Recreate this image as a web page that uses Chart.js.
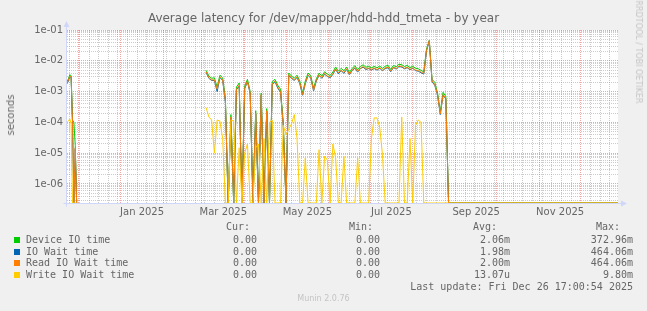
<!DOCTYPE html>
<html>
<head>
<meta charset="utf-8">
<script src="https://cdn.jsdelivr.net/npm/chart.js"></script>
<style>
  body { margin: 0; background: #f0f0f0; }
  #wrap { position: relative; width: 647px; height: 311px; overflow: hidden; font-family: "DejaVu Sans", sans-serif; color: #666; }
  #chart { position: absolute; left: 0; top: 0; }
  .txt { position: absolute; white-space: pre; }
  .title { left: 0; width: 647px; top: 11px; text-align: center; font-size: 12px; line-height: 14px; }
  .ytitle { left: 11px; top: 115px; font-size: 10px; line-height: 12px; transform: translate(-50%, -50%) rotate(-90deg); }
  .wm { left: 638px; top: 52px; font-size: 8px; line-height: 10px; color: #c4c4c4; transform: translate(-50%, -50%) rotate(90deg); }
  .mono { font-family: "DejaVu Sans Mono", monospace; font-size: 10px; line-height: 12px; }
  .box { position: absolute; width: 6px; height: 6px; left: 14px; }
  .foot { left: 0; width: 647px; text-align: center; top: 294px; font-size: 8px; line-height: 10px; color: #c4c4c4; }
</style>
</head>
<body>
<div id="wrap">
  <canvas id="chart" width="647" height="311"></canvas>
  <div class="txt title">Average latency for /dev/mapper/hdd-hdd_tmeta - by year</div>
  <div class="txt ytitle">seconds</div>
  <div class="txt wm">RRDTOOL / TOBI OETIKER</div>
  <div class="txt foot">Munin 2.0.76</div>
</div>
<script>
// x values are days counted from 1 Jan 2025 (negative = late 2024)
const days = [-39, -38, -37, -36, -35, -34, -33, -32, -31,
  62, 64, 66, 68, 70, 72, 74, 76, 78, 80, 82, 84, 86, 88, 90, 92, 94, 96, 98, 100,
  102, 104, 106, 108, 110, 112, 114, 116, 118, 120, 122, 124, 126, 128, 130, 132, 134, 136, 138, 140,
  142, 144, 146, 148, 150, 152, 154, 156, 158, 160, 162, 164, 166, 168, 170, 172, 174, 176, 178, 180,
  182, 184, 186, 188, 190, 192, 194, 196, 198, 200, 202, 204, 206, 208, 210, 212, 214, 216, 218, 220,
  222, 224, 226, 228, 230, 232, 234, 236, 238, 361];

const deviceIO = [2.1e-3, 2.6e-3, 3.5e-3, 3.3e-3, 1.2e-4, 1.0e-4, 1.8e-5, 0, null,
  4.9e-3, 3.2e-3, 2.7e-3, 2.8e-3, 1.4e-3, 3.4e-3, 2.8e-3, 6e-4, 0, 1.8e-4,
  0, 1.4e-3, 1.9e-3, 0, 1.5e-3, 2.5e-3, 1.0e-3, 0, 2.4e-4, 0,
  9e-4, 0, 2.8e-4, 0, 2.1e-3, 2.5e-3, 1.6e-3, 1.2e-3, 1.0e-4, 0,
  4.0e-3, 3.2e-3, 2.7e-3, 3.4e-3, 2.2e-3, 9e-4, 2.2e-3, 4.0e-3, 3.2e-3, 1.3e-3,
  2.6e-3, 4.0e-3, 3.2e-3, 4.4e-3, 3.7e-3, 3.3e-3, 4.3e-3, 6.3e-3, 4.6e-3, 5.7e-3,
  4.7e-3, 6.3e-3, 4.1e-3, 5.7e-3, 6.9e-3, 5.1e-3, 6.6e-3, 7.4e-3, 6.2e-3, 6.6e-3,
  5.9e-3, 6.6e-3, 5.9e-3, 6.7e-3, 5.7e-3, 6.6e-3, 7.2e-3, 5.2e-3, 7.1e-3, 6.4e-3,
  7.7e-3, 7.5e-3, 6.5e-3, 7.1e-3, 6.0e-3, 6.7e-3, 5.7e-3, 5.5e-3, 4.9e-3, 4.4e-3,
  2.4e-2, 4.6e-2, 2.5e-3, 2.0e-3, 9e-4, 2.2e-4, 9.5e-4, 7e-4, 0, 0];

const ioWait = [1.8e-3, 2.2e-3, 3.1e-3, 2.9e-3, 9.5e-5, 0, 1.4e-5, 0, null,
  4.2e-3, 2.7e-3, 2.3e-3, 2.3e-3, 1.0e-3, 2.9e-3, 2.3e-3, 4.5e-4, 0, 1.4e-4,
  0, 1.15e-3, 1.5e-3, 0, 1.25e-3, 2.1e-3, 8.5e-4, 0, 1.9e-4, 0,
  7.6e-4, 0, 2.3e-4, 0, 1.7e-3, 2.1e-3, 1.3e-3, 9.5e-4, 7.6e-5, 0,
  3.4e-3, 2.7e-3, 2.3e-3, 2.9e-3, 1.8e-3, 7.6e-4, 1.8e-3, 3.4e-3, 2.7e-3, 1.05e-3,
  2.2e-3, 3.4e-3, 2.7e-3, 3.7e-3, 3.1e-3, 2.8e-3, 3.6e-3, 5.3e-3, 3.8e-3, 4.8e-3,
  3.9e-3, 5.3e-3, 3.5e-3, 4.8e-3, 5.8e-3, 4.3e-3, 5.6e-3, 6.2e-3, 5.2e-3, 5.6e-3,
  5.0e-3, 5.6e-3, 5.0e-3, 5.7e-3, 4.8e-3, 5.6e-3, 6.0e-3, 4.4e-3, 6.0e-3, 5.4e-3,
  6.5e-3, 6.3e-3, 5.5e-3, 6.0e-3, 5.1e-3, 5.7e-3, 4.8e-3, 4.6e-3, 4.1e-3, 3.7e-3,
  2.1e-2, 4.4e-2, 2.1e-3, 1.6e-3, 7.7e-4, 1.8e-4, 7.7e-4, 5.8e-4, 0, 0];

const readIO = [1.9e-3, 2.3e-3, 3.2e-3, 3.0e-3, 1.0e-4, 0, 1.5e-5, 0, null,
  4.4e-3, 2.8e-3, 2.4e-3, 2.4e-3, 1.2e-3, 3.0e-3, 2.4e-3, 5e-4, 0, 1.5e-4,
  0, 1.2e-3, 1.6e-3, 0, 1.3e-3, 2.2e-3, 9e-4, 0, 2e-4, 0,
  8e-4, 0, 2.4e-4, 0, 1.8e-3, 2.2e-3, 1.4e-3, 1.0e-3, 8e-5, 0,
  3.5e-3, 2.8e-3, 2.4e-3, 3.0e-3, 1.9e-3, 8e-4, 1.9e-3, 3.5e-3, 2.8e-3, 1.1e-3,
  2.3e-3, 3.5e-3, 2.8e-3, 3.9e-3, 3.2e-3, 2.9e-3, 3.8e-3, 5.5e-3, 4.0e-3, 5.0e-3,
  4.1e-3, 5.5e-3, 3.6e-3, 5.0e-3, 6.0e-3, 4.5e-3, 5.8e-3, 6.5e-3, 5.4e-3, 5.8e-3,
  5.2e-3, 5.8e-3, 5.2e-3, 5.9e-3, 5.0e-3, 5.8e-3, 6.3e-3, 4.6e-3, 6.2e-3, 5.6e-3,
  6.8e-3, 6.6e-3, 5.7e-3, 6.2e-3, 5.3e-3, 5.9e-3, 5.0e-3, 4.8e-3, 4.3e-3, 3.9e-3,
  2.2e-2, 4.5e-2, 2.2e-3, 1.7e-3, 8e-4, 1.9e-4, 8e-4, 6e-4, 0, 0];

const writeIO = [1.0e-4, 1.1e-4, 1.3e-4, 9e-5, 0, 0, 0, 0, null,
  3e-4, 1.5e-4, 1.2e-4, 1e-5, 1.2e-4, 1.1e-4, 3e-5, 0, 0, 1.2e-4,
  1.1e-4, 0, 1.5e-5, 0, 1e-5, 2e-5, 0, 0, 1.5e-5, 2e-5,
  0, 3e-5, 0, 1e-4, 1.2e-4, 0, 0, 0, 8e-5, 4e-5,
  6e-5, 9e-5, 1.8e-4, 3e-5, 0, 0, 7e-6, 0, 0, 0,
  0, 1.3e-5, 0, 8e-6, 6e-6, 0, 2e-5, 7e-6, 0, 0,
  8e-6, 0, 0, 0, 0, 7e-6, 0, 0, 0, 0,
  3e-5, 1.4e-4, 1.4e-4, 7e-5, 9e-6, 0, 0, 0, 0, 0,
  0, 1.5e-4, 0, 0, 3e-5, 0, 8e-5, 1.2e-4, 1e-4, 0,
  0, 0, 0, 0, 0, 0, 0, 0, 0, 0];

const seriesNames = ['Device IO time', 'IO Wait time', 'Read IO Wait time', 'Write IO Wait time'];
const seriesColors = ['#00cc00', '#0066b3', '#ff8000', '#ffcc00'];
const curVals = ['0.00 ', '0.00 ', '0.00 ', '0.00 '];
const minVals = ['0.00 ', '0.00 ', '0.00 ', '0.00 '];
const avgVals = ['2.06m', '1.98m', '2.00m', '13.07u'];
const maxVals = ['372.96m', '464.06m', '464.06m', '9.80m'];
const lastUpdate = 'Last update: Fri Dec 26 17:00:54 2025';

// axis ranges and tick labels
const xMin = -39, xMax = 361;
const monthStarts = [-31, 0, 31, 59, 90, 120, 151, 181, 212, 243, 273, 304, 334];
const labelDays = [15.5, 74.5, 135.5, 196.5, 258, 319];
const monthLabels = ['Jan 2025', 'Mar 2025', 'May 2025', 'Jul 2025', 'Sep 2025', 'Nov 2025'];
const yMin = 2.415e-7, yMax = 0.1;
const decadeExps = [-7, -6, -5, -4, -3, -2, -1];

const majorGrid = 'rgba(222,79,79,0.5)';
const minorGrid = 'rgba(143,143,143,0.45)';
const axisColor = '#cfd6f8';

// legend text (plain html)
const wrap = document.getElementById('wrap');
function addText(txt, css) {
  const d = document.createElement('div');
  d.className = 'txt mono';
  d.textContent = txt;
  Object.assign(d.style, css);
  wrap.appendChild(d);
}
addText('Cur:', { right: '397px', top: '221px' });
addText('Min:', { right: '274px', top: '221px' });
addText('Avg:', { right: '150px', top: '221px' });
addText('Max:', { right: '27px', top: '221px' });
const rowTops = [234, 245.5, 257, 269];
seriesNames.forEach((name, i) => {
  const b = document.createElement('div');
  b.className = 'box';
  b.style.top = (rowTops[i] + 3) + 'px';
  b.style.background = seriesColors[i];
  wrap.appendChild(b);
  addText(name, { left: '26px', top: rowTops[i] + 'px' });
  addText(curVals[i], { right: '384px', top: rowTops[i] + 'px' });
  addText(minVals[i], { right: '261px', top: rowTops[i] + 'px' });
  addText(avgVals[i], { right: '137px', top: rowTops[i] + 'px' });
  addText(maxVals[i], { right: '14px', top: rowTops[i] + 'px' });
});
addText(lastUpdate, { right: '14px', top: '281px' });

// a log axis cannot show 0; like rrdtool, pin zero readings to the axis floor
function series(values) {
  return days.map((d, i) => ({ x: d, y: values[i] === 0 ? yMin : values[i] }));
}

const rrdLook = {
  id: 'rrdLook',
  beforeDraw(chart) {
    const { ctx, chartArea: a } = chart;
    ctx.save();
    ctx.fillStyle = '#ffffff';
    ctx.fillRect(a.left, a.top, a.right - a.left, a.bottom - a.top);
    ctx.restore();
  },
  beforeDatasetsDraw(chart) {
    const { ctx, chartArea: a } = chart;
    const x0 = Math.round(a.left) - 0.5, y0 = Math.round(a.bottom) + 0.5;
    ctx.save();
    ctx.strokeStyle = axisColor;
    ctx.fillStyle = axisColor;
    ctx.lineWidth = 1;
    ctx.beginPath();
    ctx.moveTo(x0, y0 + 3); ctx.lineTo(x0, a.top - 5);
    ctx.moveTo(x0 - 3, y0); ctx.lineTo(a.right + 5, y0);
    ctx.stroke();
    ctx.beginPath();
    ctx.moveTo(x0, a.top - 9); ctx.lineTo(x0 - 3, a.top - 3); ctx.lineTo(x0 + 3, a.top - 3); ctx.closePath();
    ctx.fill();
    ctx.beginPath();
    ctx.moveTo(a.right + 9, y0); ctx.lineTo(a.right + 3, y0 - 3); ctx.lineTo(a.right + 3, y0 + 3); ctx.closePath();
    ctx.fill();
    ctx.restore();
  }
};

const tickFont = { family: 'DejaVu Sans', size: 10 };

new Chart(document.getElementById('chart'), {
  type: 'line',
  data: {
    datasets: [
      { label: seriesNames[0], data: series(deviceIO), borderColor: seriesColors[0], order: 4 },
      { label: seriesNames[1], data: series(ioWait), borderColor: seriesColors[1], order: 3 },
      { label: seriesNames[2], data: series(readIO), borderColor: seriesColors[2], order: 2 },
      { label: seriesNames[3], data: series(writeIO), borderColor: seriesColors[3], order: 1 }
    ]
  },
  options: {
    responsive: false,
    devicePixelRatio: 1,
    animation: false,
    layout: { padding: { left: 0, top: 30, right: 29, bottom: 88 } },
    elements: {
      line: { borderWidth: 1, tension: 0 },
      point: { radius: 0 }
    },
    spanGaps: false,
    plugins: { legend: { display: false }, tooltip: { enabled: false } },
    scales: {
      x: {
        type: 'linear',
        min: xMin,
        max: xMax,
        afterFit(scale) { scale.height = 20; },
        afterBuildTicks(scale) {
          const t = [];
          for (let d = -37; d <= xMax; d += 7) {
            if (!monthStarts.includes(d)) t.push({ value: d, kind: 'week' });
          }
          monthStarts.forEach(d => t.push({ value: d, kind: 'month' }));
          labelDays.forEach((d, i) => t.push({ value: d, kind: 'label', text: monthLabels[i] }));
          t.sort((p, q) => p.value - q.value);
          scale.ticks = t;
        },
        ticks: {
          autoSkip: false,
          maxRotation: 0,
          padding: 3,
          color: '#666',
          font: tickFont,
          callback: (v, i, ticks) => ticks[i].text || ''
        },
        grid: {
          drawTicks: false,
          color: c => !c.tick ? 'rgba(0,0,0,0)' : c.tick.kind === 'month' ? majorGrid : c.tick.kind === 'week' ? minorGrid : 'rgba(0,0,0,0)'
        },
        border: { display: false, dash: [1, 1] }
      },
      y: {
        type: 'logarithmic',
        min: yMin,
        max: yMax,
        afterFit(scale) { scale.width = 67; },
        afterBuildTicks(scale) {
          const t = [];
          decadeExps.forEach(e => {
            for (let m = 1; m <= 9; m++) {
              const v = m * Math.pow(10, e);
              if (v >= yMin && v <= yMax * 1.0001) t.push({ value: v, dec: m === 1, exp: e });
            }
          });
          scale.ticks = t;
        },
        ticks: {
          autoSkip: false,
          padding: 4,
          color: '#666',
          font: tickFont,
          callback: (v, i, ticks) => ticks[i].dec ? '1e-0' + (-ticks[i].exp) : ''
        },
        grid: {
          drawTicks: false,
          color: c => !c.tick ? 'rgba(0,0,0,0)' : c.tick.dec ? majorGrid : minorGrid
        },
        border: { display: false, dash: [1, 1] }
      }
    }
  },
  plugins: [rrdLook]
});
</script>
</body>
</html>
